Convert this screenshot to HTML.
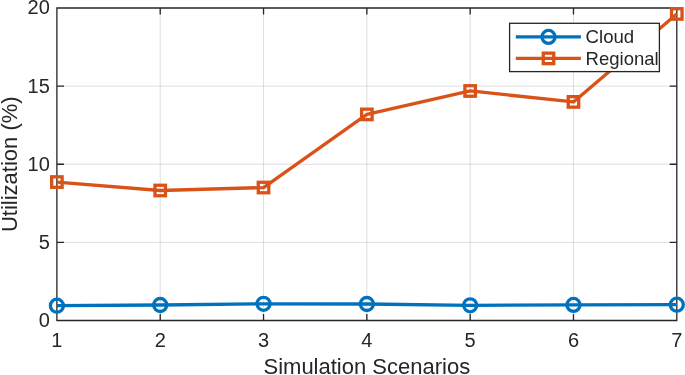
<!DOCTYPE html>
<html><head><meta charset="utf-8"><style>
html,body{margin:0;padding:0;background:#fff;width:685px;height:375px;overflow:hidden}
svg{display:block;will-change:transform;font-family:"Liberation Sans",sans-serif;fill:#262626}
text{fill:#262626}
</style></head><body>
<svg width="685" height="375" viewBox="0 0 685 375">
<rect width="685" height="375" fill="#fff"/>
<path d="M160.22 8.00V320.50M263.53 8.00V320.50M366.85 8.00V320.50M470.17 8.00V320.50M573.48 8.00V320.50" stroke="#262626" stroke-opacity="0.15" stroke-width="1" fill="none"/>
<path d="M56.90 242.38H676.80M56.90 164.25H676.80M56.90 86.12H676.80" stroke="#262626" stroke-opacity="0.15" stroke-width="1" fill="none"/>
<path d="M56.90 8.00H676.80V320.50H56.90ZM56.90 320.50v-6.6M56.90 8.00v6.6M160.22 320.50v-6.6M160.22 8.00v6.6M263.53 320.50v-6.6M263.53 8.00v6.6M366.85 320.50v-6.6M366.85 8.00v6.6M470.17 320.50v-6.6M470.17 8.00v6.6M573.48 320.50v-6.6M573.48 8.00v6.6M676.80 320.50v-6.6M676.80 8.00v6.6M56.90 320.50h7.1M676.80 320.50h-7.1M56.90 242.38h7.1M676.80 242.38h-7.1M56.90 164.25h7.1M676.80 164.25h-7.1M56.90 86.12h7.1M676.80 86.12h-7.1M56.90 8.00h7.1M676.80 8.00h-7.1" stroke="#262626" stroke-width="1.3" fill="none"/>
<polyline points="56.90,305.70 160.22,305.00 263.53,303.80 366.85,304.00 470.17,305.30 573.48,304.91 676.80,304.70" fill="none" stroke="#0072BD" stroke-width="3.3" stroke-linejoin="round"/>
<polyline points="56.90,182.06 160.22,190.50 263.53,187.53 366.85,114.41 470.17,90.97 573.48,101.91 676.80,13.94" fill="none" stroke="#D95319" stroke-width="3.3" stroke-linejoin="round"/>
<circle cx="56.90" cy="305.70" r="6.5" fill="none" stroke="#0072BD" stroke-width="3.3"/>
<circle cx="160.22" cy="305.00" r="6.5" fill="none" stroke="#0072BD" stroke-width="3.3"/>
<circle cx="263.53" cy="303.80" r="6.5" fill="none" stroke="#0072BD" stroke-width="3.3"/>
<circle cx="366.85" cy="304.00" r="6.5" fill="none" stroke="#0072BD" stroke-width="3.3"/>
<circle cx="470.17" cy="305.30" r="6.5" fill="none" stroke="#0072BD" stroke-width="3.3"/>
<circle cx="573.48" cy="304.91" r="6.5" fill="none" stroke="#0072BD" stroke-width="3.3"/>
<circle cx="676.80" cy="304.70" r="6.5" fill="none" stroke="#0072BD" stroke-width="3.3"/>
<rect x="51.65" y="176.81" width="10.5" height="10.5" fill="none" stroke="#D95319" stroke-width="3.3"/>
<rect x="154.97" y="185.25" width="10.5" height="10.5" fill="none" stroke="#D95319" stroke-width="3.3"/>
<rect x="258.28" y="182.28" width="10.5" height="10.5" fill="none" stroke="#D95319" stroke-width="3.3"/>
<rect x="361.60" y="109.16" width="10.5" height="10.5" fill="none" stroke="#D95319" stroke-width="3.3"/>
<rect x="464.92" y="85.72" width="10.5" height="10.5" fill="none" stroke="#D95319" stroke-width="3.3"/>
<rect x="568.23" y="96.66" width="10.5" height="10.5" fill="none" stroke="#D95319" stroke-width="3.3"/>
<rect x="671.55" y="8.69" width="10.5" height="10.5" fill="none" stroke="#D95319" stroke-width="3.3"/>
<text x="49.8" y="326.90" text-anchor="end" font-size="20">0</text>
<text x="49.8" y="248.78" text-anchor="end" font-size="20">5</text>
<text x="49.8" y="170.65" text-anchor="end" font-size="20">10</text>
<text x="49.8" y="92.53" text-anchor="end" font-size="20">15</text>
<text x="49.8" y="14.40" text-anchor="end" font-size="20">20</text>
<text x="56.90" y="346.9" text-anchor="middle" font-size="20">1</text>
<text x="160.22" y="346.9" text-anchor="middle" font-size="20">2</text>
<text x="263.53" y="346.9" text-anchor="middle" font-size="20">3</text>
<text x="366.85" y="346.9" text-anchor="middle" font-size="20">4</text>
<text x="470.17" y="346.9" text-anchor="middle" font-size="20">5</text>
<text x="573.48" y="346.9" text-anchor="middle" font-size="20">6</text>
<text x="676.80" y="346.9" text-anchor="middle" font-size="20">7</text>
<text x="366.85" y="373.7" text-anchor="middle" font-size="22">Simulation Scenarios</text>
<text transform="translate(16.8 164.25) rotate(-90)" text-anchor="middle" font-size="22">Utilization (%)</text>
<rect x="509.6" y="23.3" width="149.8" height="48.3" fill="#fff" stroke="#262626" stroke-width="1.3"/>
<path d="M515.8 36.9H580.9" stroke="#0072BD" stroke-width="3.3"/>
<circle cx="548.5" cy="36.9" r="6.5" fill="none" stroke="#0072BD" stroke-width="3.3"/>
<path d="M515.8 58.4H580.9" stroke="#D95319" stroke-width="3.3"/>
<rect x="543.25" y="53.15" width="10.5" height="10.5" fill="none" stroke="#D95319" stroke-width="3.3"/>
<text x="585.6" y="43.35" font-size="18.6">Cloud</text>
<text x="585.6" y="64.5" font-size="18.5">Regional</text>
</svg>
</body></html>
